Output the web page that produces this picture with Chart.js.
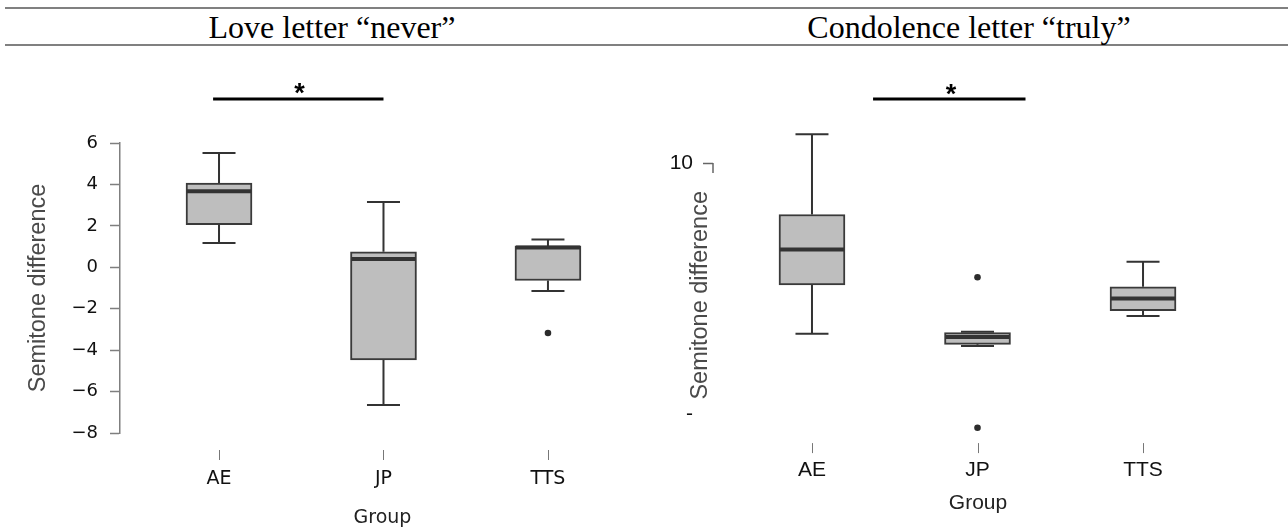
<!DOCTYPE html>
<html>
<head>
<meta charset="utf-8">
<script src="https://cdn.jsdelivr.net/npm/chart.js@4/dist/chart.umd.min.js"></script>
<style>
  html, body { margin: 0; padding: 0; background: #fff; }
  body { width: 1288px; height: 529px; position: relative; overflow: hidden; }
  .rule { position: absolute; left: 5px; right: 0; height: 2.5px; background: #808080; }
  .ttl { position: absolute; top: 11px; line-height: 32px; font-family: 'Liberation Serif', 'Times New Roman', serif;
         font-size: 32px; color: #000; white-space: nowrap; transform: translateX(-50%); }
  #w1 { position: absolute; left: 0; top: 0; }
  #w2 { position: absolute; left: 640px; top: 0; }
</style>
</head>
<body>
<div class="rule" style="top:6.5px"></div>
<div class="rule" style="top:43.5px"></div>
<div class="ttl" style="left:332px">Love letter “never”</div>
<div class="ttl" style="left:969px">Condolence letter “truly”</div>
<canvas id="w1" width="660" height="529"></canvas>
<canvas id="w2" width="648" height="529"></canvas>
<script>
// ---------- data ----------
const categories = ['AE', 'JP', 'TTS'];

// Love letter "never"
const loveMin    = [1.17, -6.65, -1.14];
const loveQ1     = [2.06, -4.47, -0.64];
const loveMedian = [3.67,  0.40,  0.95];
const loveQ3     = [4.07,  0.75,  1.03];
const loveMax    = [5.52,  3.15,  1.34];
const loveOutlierGroup = ['TTS'];
const loveOutlierValue = [-3.17];
const loveTicks = [-8, -6, -4, -2, 0, 2, 4, 6];

// Condolence letter "truly"
const condMin    = [-3.6, -4.58, -2.2];
const condQ1     = [0.28, -4.45, -1.77];
const condMedian = [3.1,  -3.86, -0.8];
const condQ3     = [5.9,  -3.52,  0.14];
const condMax    = [12.3, -3.44,  2.13];
const condOutlierGroup = ['JP', 'JP'];
const condOutlierValue = [0.9, -11.1];
const condTicks = [10, -10];
const condTickLabels = ['10', '-'];

// ---------- helpers ----------
const fmtMinus = v => (v < 0 ? '\u2212' + Math.abs(v) : String(v));

const boxExtras = {
  id: 'boxExtras',
  afterDatasetsDraw(chart, args, o) {
    const { ctx, scales: { x, y }, chartArea } = chart;
    ctx.save();
    ctx.lineCap = 'butt';
    categories.forEach((c, i) => {
      const cx = x.getPixelForValue(i);
      ctx.strokeStyle = '#333';
      ctx.lineWidth = 2;
      [[o.q3[i], o.max[i]], [o.q1[i], o.min[i]]].forEach(([a, b]) => {
        const pa = y.getPixelForValue(a), pb = y.getPixelForValue(b);
        ctx.beginPath();
        ctx.moveTo(cx, pa); ctx.lineTo(cx, pb);
        ctx.moveTo(cx - o.cap / 2, pb); ctx.lineTo(cx + o.cap / 2, pb);
        ctx.stroke();
      });
      const pm = y.getPixelForValue(o.med[i]);
      ctx.lineWidth = 4;
      ctx.beginPath();
      ctx.moveTo(cx - o.box / 2 + 1, pm); ctx.lineTo(cx + o.box / 2 - 1, pm);
      ctx.stroke();
      // x tick marks (offset from plot)
      ctx.strokeStyle = '#777';
      ctx.lineWidth = 1;
      ctx.beginPath();
      ctx.moveTo(Math.round(cx) + 0.5, chartArea.bottom + o.xTick[0]);
      ctx.lineTo(Math.round(cx) + 0.5, chartArea.bottom + o.xTick[1]);
      ctx.stroke();
    });
    // significance bar
    const s = o.sig;
    const sy = y.getPixelForValue(s.y);
    ctx.strokeStyle = '#000';
    ctx.lineWidth = 3;
    ctx.beginPath();
    ctx.moveTo(x.getPixelForValue(s.from), sy);
    ctx.lineTo(x.getPixelForValue(s.to), sy);
    ctx.stroke();
    ctx.fillStyle = '#000';
    ctx.font = 'bold 27px "Liberation Sans", Arial, sans-serif';
    ctx.textAlign = 'center';
    ctx.textBaseline = 'alphabetic';
    ctx.fillText('*', x.getPixelForValue(s.starX), y.getPixelForValue(s.starY) + 27 * 0.56);
    // partial y axis stub
    if (o.stub) {
      ctx.strokeStyle = '#666';
      ctx.lineWidth = 1.5;
      ctx.beginPath();
      ctx.moveTo(chartArea.left, y.getPixelForValue(o.stub[0]));
      ctx.lineTo(chartArea.left, y.getPixelForValue(o.stub[1]));
      ctx.stroke();
    }
    ctx.restore();
  }
};

function makeChart(el, cfg) {
  const idx = categories.map((c, i) => i);
  return new Chart(el, {
    type: 'bar',
    data: {
      datasets: [
        {
          type: 'bar',
          data: idx.map(i => ({ x: i, y: [cfg.q1[i], cfg.q3[i]] })),
          backgroundColor: '#bebebe',
          borderColor: '#3a3a3a',
          borderWidth: 2,
          borderSkipped: false,
          barThickness: 66,
          order: 2
        },
        {
          type: 'scatter',
          data: cfg.outG.map((g, k) => ({ x: categories.indexOf(g), y: cfg.outV[k] })),
          pointRadius: 3.3,
          pointHoverRadius: 3.3,
          backgroundColor: '#2c2c2c',
          borderWidth: 0,
          order: 1
        }
      ]
    },
    options: {
      responsive: false,
      animation: false,
      devicePixelRatio: 1,
      layout: { padding: cfg.padding },
      plugins: {
        legend: { display: false },
        tooltip: { enabled: false },
        boxExtras: {
          min: cfg.min, q1: cfg.q1, med: cfg.med, q3: cfg.q3, max: cfg.max,
          cap: 33, box: 66, xTick: cfg.xTick, sig: cfg.sig, stub: cfg.stub
        }
      },
      scales: {
        x: {
          type: 'linear',
          offset: false,
          min: cfg.xMin, max: cfg.xMax,
          afterBuildTicks: sc => { sc.ticks = idx.map(v => ({ value: v })); },
          afterFit: sc => { sc.height = cfg.xHeight; },
          grid: { display: false, drawTicks: false, offset: false },
          border: { display: false },
          ticks: {
            autoSkip: false, maxRotation: 0,
            callback: v => categories[v],
            font: { family: cfg.xFont, size: cfg.xSize },
            color: '#111',
            padding: cfg.xPad
          },
          title: {
            display: true, text: 'Group',
            font: { family: cfg.xFont, size: cfg.xSize },
            color: '#222',
            padding: { top: 0, bottom: cfg.groupPad }
          }
        },
        y: {
          min: cfg.yMin, max: cfg.yMax,
          afterBuildTicks: sc => { sc.ticks = cfg.yTicks.map(v => ({ value: v })); },
          afterFit: sc => { sc.width = cfg.yWidth; },
          grid: {
            drawOnChartArea: false, drawTicks: true, tickLength: 10,
            tickWidth: 1.5,
            tickColor: cfg.tickColor
          },
          border: { display: cfg.yBorder, color: '#7f7f7f', width: 1.5 },
          ticks: {
            callback: cfg.yLabel,
            font: { family: cfg.yFont, size: cfg.ySize },
            color: '#111',
            padding: cfg.yPad
          },
          title: {
            display: true, text: cfg.yTitle,
            font: { family: 'Liberation Sans', size: 23.5 },
            color: '#4a4a4a',
            padding: { top: cfg.yTitlePad }
          }
        }
      }
    },
    plugins: [boxExtras]
  });
}

makeChart(document.getElementById('w1'), {
  min: loveMin, q1: loveQ1, med: loveMedian, q3: loveQ3, max: loveMax,
  outG: loveOutlierGroup, outV: loveOutlierValue,
  padding: { top: 143, right: 15, left: 0, bottom: 0 },
  xMin: -0.602, xMax: 2.59, xHeight: 96,
  xFont: 'DejaVu Sans', xSize: 19, xPad: 35, groupPad: 0,
  yMin: -8, yMax: 6, yTicks: loveTicks, yWidth: 120,
  yLabel: v => fmtMinus(v), yFont: 'DejaVu Sans', ySize: 18, yPad: 12,
  yBorder: true, tickColor: '#7f7f7f',
  yTitle: 'Semitone difference', yTitlePad: 24,
  xTick: [17, 27],
  sig: { from: -0.036, to: 1.0, y: 8.12, starX: 0.49, starY: 8.7 },
  stub: null
});

makeChart(document.getElementById('w2'), {
  min: condMin, q1: condQ1, med: condMedian, q3: condQ3, max: condMax,
  outG: condOutlierGroup, outV: condOutlierValue,
  padding: { top: 125.35, right: 45, left: 0, bottom: 0 },
  xMin: -0.598, xMax: 2.604, xHeight: 89.9,
  xFont: 'Liberation Sans', xSize: 21, xPad: 19, groupPad: 13,
  yMin: -12, yMax: 13, yTicks: condTicks, yWidth: 73,
  yLabel: (v) => condTickLabels[condTicks.indexOf(v)], yFont: 'Liberation Sans', ySize: 21, yPad: 10,
  yBorder: false, tickColor: c => (c.tick && c.tick.value === 10 ? '#666' : 'rgba(0,0,0,0)'),
  yTitle: 'Semitone difference    ', yTitlePad: 46,
  xTick: [4, 14],
  sig: { from: 0.369, to: 1.29, y: 15.1, starX: 0.84, starY: 15.98 },
  stub: [10, 9.2]
});
</script>
</body>
</html>
